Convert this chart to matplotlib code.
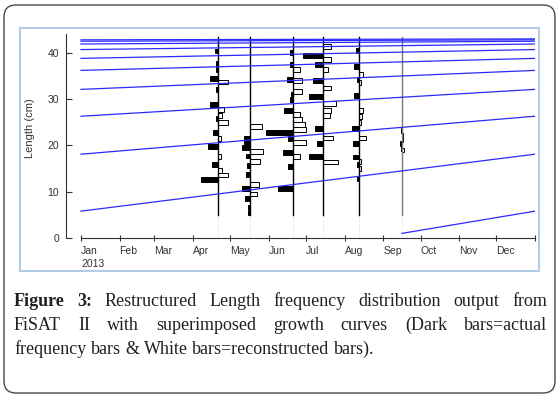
import matplotlib
matplotlib.use("Agg")
import matplotlib.pyplot as plt
from matplotlib.patches import FancyBboxPatch, Rectangle

# --- data ---
month_labels = ["Jan", "Feb", "Mar", "Apr", "May", "Jun", "Jul", "Aug", "Sep", "Oct", "Nov", "Dec"]
month_start_days = [0, 31, 59, 90, 120, 151, 181, 212, 243, 273, 304, 334, 365]

# length (cm) of each cohort on 1 Jan; a growth curve runs from one value to the next over the year
jan_lengths = [5.8, 18.1, 26.3, 32.1, 36.2, 38.8, 40.7, 41.9, 42.5, 42.8, 43.0]
# the new cohort recruited in September
new_cohort_days = [258, 365]
new_cohort_len = [1.0, 5.8]

# sampling days (day of year 2013)
sample_days = [110, 136, 170.5, 194.5, 223.5, 258]
sample_line_top = 43.4
sample_line_bottom = 5.0

# restructured bars per sample: (length class cm, score)
# dark bars = actual frequency (drawn to the left), white bars = reconstructed (to the right)
apr_black = [(40.4, 3), (37.6, 2), (36.4, 2), (34.5, 8), (32.0, 2), (28.8, 8), (25.8, 2), (22.8, 5),
             (19.7, 10), (15.8, 6), (12.6, 17)]
apr_white = [(33.7, 10), (27.7, 6), (26.5, 4), (25.0, 10), (21.5, 3), (17.6, 3), (14.6, 4), (13.6, 10)]

may_black = [(21.6, 6), (20.5, 6), (19.5, 8), (17.7, 4), (15.7, 3), (13.8, 4), (10.7, 8), (8.5, 5),
             (6.5, 2), (5.4, 2)]
may_white = [(24.0, 12), (18.6, 13), (16.6, 10), (11.6, 9), (9.5, 7)]

jun_black = [(40.0, 3), (37.5, 3), (34.3, 6), (31.1, 2), (30.0, 3), (27.6, 9), (22.7, 27), (21.5, 5),
             (18.5, 10), (15.5, 5), (10.6, 15)]
jun_white = [(36.3, 7), (34.0, 9), (31.7, 9), (26.7, 7), (25.6, 9), (24.6, 12), (23.5, 13), (20.6, 13),
             (17.6, 7)]

jul_black = [(39.4, 20), (37.5, 8), (34.0, 10), (30.5, 14), (23.6, 8), (20.4, 6), (17.6, 14)]
jul_white = [(41.4, 8), (38.6, 8), (36.4, 5), (32.4, 8), (29.0, 13), (27.6, 8), (26.4, 7), (21.6, 10),
             (16.4, 15)]

aug_black = [(40.5, 3), (37.0, 5), (34.3, 2), (30.8, 5), (23.6, 7), (20.4, 6), (17.5, 6), (15.8, 2),
             (12.8, 2)]
aug_white = [(35.3, 4), (33.5, 2), (27.6, 4), (26.3, 3), (25.0, 2), (21.6, 7), (16.5, 2), (15.0, 2)]

sep_black = [(23.2, 1), (20.5, 2), (19.3, 1)]
sep_white = [(22.2, 1), (21.2, 1), (19.0, 2)]

black_sets = [apr_black, may_black, jun_black, jul_black, aug_black, sep_black]
white_sets = [apr_white, may_white, jun_white, jul_white, aug_white, sep_white]

caption_lines = [
    "Figure 3: Restructured Length frequency distribution output from",
    "FiSAT II with superimposed growth curves (Dark bars=actual",
    "frequency bars & White bars=reconstructed bars).",
]

# --- figure ---
W, H = 559, 398
fig = plt.figure(figsize=(W / 100, H / 100), dpi=100)

# pixel-space overlay for frames and caption
frame_ax = fig.add_axes([0, 0, 1, 1], zorder=0)
frame_ax.set_xlim(0, W)
frame_ax.set_ylim(H, 0)
frame_ax.axis("off")
frame_ax.add_patch(FancyBboxPatch((4, 5), 551, 388, boxstyle="round,pad=0,rounding_size=12",
                                  facecolor="white", edgecolor="#4a4a4a", lw=1.0))
frame_ax.add_patch(Rectangle((20, 28), 519, 243, facecolor="white", edgecolor="#b3cbe6", lw=1.5))

# chart axes: y axis at x=66 px, x range Jan..Dec from 81 to 535 px
ax = fig.add_axes([66 / W, 1 - 238 / H, (535 - 66) / W, (238 - 34) / H], zorder=1)
ax.patch.set_alpha(0)
ax.set_xlim(-12.06, 365)
ax.set_ylim(0, 44.06)

day_per_unit = 1 / 1.244
bar_h = 1.05
for day, blk, wht in zip(sample_days, black_sets, white_sets):
    ax.barh([b[0] for b in wht], [b[1] * day_per_unit for b in wht], left=day, height=bar_h,
            color="white", edgecolor="black", lw=0.7, zorder=2)
    ax.barh([b[0] for b in blk], [-b[1] * day_per_unit for b in blk], left=day, height=bar_h,
            color="black", edgecolor="black", lw=0.7, zorder=2)

for i, day in enumerate(sample_days):
    col = "#7a7a7a" if i == len(sample_days) - 1 else "black"
    ax.plot([day, day], [sample_line_bottom, sample_line_top], color=col, lw=1.0, zorder=2.5)
    ax.plot([day, day], [0, sample_line_bottom], color="#d0d0d0", lw=0.6, ls=":", zorder=2)

for a, b in zip(jan_lengths[:-1], jan_lengths[1:]):
    ax.plot([0, 365], [a, b], color="#2a2aff", lw=0.9, zorder=3)
ax.plot(new_cohort_days, new_cohort_len, color="#2a2aff", lw=0.9, zorder=3)

for s in ["top", "right"]:
    ax.spines[s].set_visible(False)
ax.spines["left"].set_color("#333333")
ax.spines["bottom"].set_color("#333333")
ax.spines["left"].set_linewidth(0.8)
ax.spines["bottom"].set_linewidth(0.8)
ax.spines["bottom"].set_bounds(0, 365)

ax.set_yticks([0, 10, 20, 30, 40])
ax.tick_params(axis="y", direction="in", length=4, width=0.8, pad=5, labelsize=7.5,
               colors="#333333")
ax.set_xticks(month_start_days)
ax.set_xticklabels(month_labels + [""])
ax.tick_params(axis="x", direction="inout", length=5, width=0.8, pad=3, labelsize=7.5,
               colors="#333333")
for lab in ax.get_xticklabels() + ax.get_yticklabels():
    lab.set_family("Liberation Sans")
for lab in ax.get_xticklabels():
    lab.set_horizontalalignment("left")

frame_ax.text(81, 264, "2013", fontsize=7.5, family="Liberation Sans", color="#333333",
              ha="left", va="center")
frame_ax.text(30, 128, "Length (cm)", fontsize=8, family="Liberation Sans", color="#333333",
              rotation=90, ha="center", va="center")

# caption, justified like the journal layout
cap_size = 13
cap_left, cap_right = 14, 547
baselines = [306, 330, 354]
renderer = fig.canvas.get_renderer()


def word_width(word, bold):
    t = frame_ax.text(0, 0, word, fontsize=cap_size, family="Liberation Serif",
                      weight="bold" if bold else "normal")
    w = t.get_window_extent(renderer).width
    t.remove()
    return w


for li, (line, base) in enumerate(zip(caption_lines, baselines)):
    words = line.split(" ")
    bolds = [li == 0 and k < 2 for k in range(len(words))]
    widths = [word_width(w, b) for w, b in zip(words, bolds)]
    if li < len(caption_lines) - 1:
        gap = (cap_right - cap_left - sum(widths)) / (len(words) - 1)
    else:
        gap = word_width("a b", False) - word_width("ab", False)
    x = cap_left
    for w, b, wd in zip(words, bolds, widths):
        frame_ax.text(x, base, w, fontsize=cap_size, family="Liberation Serif", color="#231f20",
                      weight="bold" if b else "normal", ha="left", va="baseline")
        x += wd + gap

fig.savefig("out.png", dpi=100)
